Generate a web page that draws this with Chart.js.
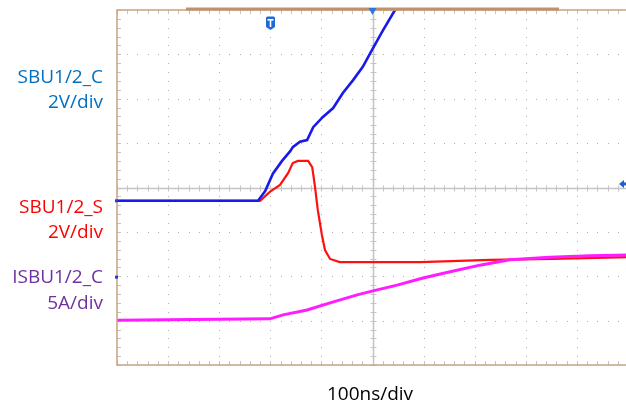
<!DOCTYPE html>
<html>
<head>
<meta charset="utf-8">
<script src="https://cdn.jsdelivr.net/npm/chart.js@4.4.1/dist/chart.umd.min.js"></script>
<style>
  html, body { margin: 0; padding: 0; background: #fff; overflow: hidden; }
  #wrap { position: relative; width: 626px; height: 404px; overflow: hidden; }
  #scope { position: absolute; left: 0; top: 0; }
  .lbl { position: absolute; right: 523px; text-align: right; white-space: nowrap;
         font-family: "Open Sans", "Liberation Sans", sans-serif; font-size: 19px; line-height: 24px; }
  #xlbl { position: absolute; left: 270px; width: 200px; text-align: center; top: 381px;
          font-family: "Open Sans", "Liberation Sans", sans-serif; font-size: 19px; line-height: 24px; color: #000; }
</style>
</head>
<body>
<div id="wrap">
  <canvas id="scope" width="640" height="404"></canvas>
  <div class="lbl" style="top:64px;color:#0070c0">SBU1/2_C</div>
  <div class="lbl" style="top:89px;color:#0070c0">2V/div</div>
  <div class="lbl" style="top:194px;color:#ff0000">SBU1/2_S</div>
  <div class="lbl" style="top:219px;color:#ff0000">2V/div</div>
  <div class="lbl" style="top:264px;color:#7030a0">ISBU1/2_C</div>
  <div class="lbl" style="top:290px;color:#7030a0">5A/div</div>
  <div id="xlbl">100ns/div</div>
</div>
<script>
// time axis: 10 divisions x 100 ns, vertical: 8 divisions (values in divisions)
const timeDivs = 10;
const nsPerDiv = 100;
const vDivs = 8;

// SBU1/2_C (2V/div)
const cTime = [0, 276, 290, 305, 323, 339, 344, 358, 372, 384, 403, 423, 442, 462, 481, 501, 521, 544, 552];
const cDiv  = [-0.30, -0.30, -0.08, 0.31, 0.60, 0.82, 0.91, 1.03, 1.07, 1.36, 1.59, 1.79, 2.13, 2.42, 2.72, 3.14, 3.55, 4.00, 4.18];

// SBU1/2_S (2V/div)
const sTime = [0, 280, 299, 319, 335, 344, 354, 374, 382, 387, 393, 401, 407, 417, 436, 593, 730, 853, 1000];
const sDiv  = [-0.30, -0.30, -0.10, 0.06, 0.33, 0.55, 0.60, 0.60, 0.46, 0.06, -0.51, -1.07, -1.41, -1.61, -1.68, -1.68, -1.63, -1.61, -1.57];

// ISBU1/2_C (5A/div)
const iTime = [0, 299, 325, 372, 417, 470, 501, 548, 599, 652, 710, 769, 847, 926, 1000];
const iDiv  = [-2.99, -2.96, -2.87, -2.76, -2.60, -2.42, -2.33, -2.20, -2.04, -1.90, -1.75, -1.63, -1.57, -1.54, -1.52];

// scope markers
const triggerTime = 300;
const centerTime = 500;
const triggerLevel = 0.08;
const channelRefs = [-0.30, -2.02];
const recordView = [135, 865];

function pts(t, v) { return t.map((x, i) => ({ x: x, y: v[i] })); }

const graticule = {
  id: 'graticule',
  beforeDatasetsDraw(chart) {
    const { ctx, chartArea: a, scales: { x, y } } = chart;
    ctx.save();
    // dotted major lines
    ctx.fillStyle = '#b0b0b0';
    for (let i = 1; i < timeDivs; i++) {
      if (i === timeDivs / 2) continue;
      const px = Math.round(x.getPixelForValue(i * nsPerDiv));
      for (let j = 0; j <= vDivs * 5; j++) {
        const py = Math.round(y.getPixelForValue(-vDivs / 2 + j * 0.2));
        ctx.fillRect(px, py, 1, 1);
      }
    }
    for (let j = 1; j < vDivs; j++) {
      if (j === vDivs / 2) continue;
      const py = Math.round(y.getPixelForValue(-vDivs / 2 + j));
      for (let i = 0; i <= timeDivs * 5; i++) {
        const px = Math.round(x.getPixelForValue(i * nsPerDiv / 5));
        ctx.fillRect(px, py, 1, 1);
      }
    }
    // center cross with minor ticks
    const cx = Math.round(x.getPixelForValue(centerTime)) + 0.5;
    const cy = Math.round(y.getPixelForValue(0)) + 0.5;
    ctx.strokeStyle = '#c4c4c4';
    ctx.lineWidth = 1.5;
    ctx.beginPath();
    ctx.moveTo(a.left, cy); ctx.lineTo(a.right, cy);
    ctx.moveTo(cx, a.top); ctx.lineTo(cx, a.bottom);
    ctx.stroke();
    ctx.lineWidth = 1;
    ctx.beginPath();
    for (let i = 0; i <= timeDivs * 5; i++) {
      const px = Math.round(x.getPixelForValue(i * nsPerDiv / 5)) + 0.5;
      ctx.moveTo(px, cy - 3); ctx.lineTo(px, cy + 3);
      ctx.moveTo(px, a.bottom); ctx.lineTo(px, a.bottom - 4);
      ctx.moveTo(px, a.top); ctx.lineTo(px, a.top + 4);
    }
    for (let j = 0; j <= vDivs * 5; j++) {
      const py = Math.round(y.getPixelForValue(-vDivs / 2 + j * 0.2)) + 0.5;
      ctx.moveTo(cx - 3, py); ctx.lineTo(cx + 3, py);
      ctx.moveTo(a.left, py); ctx.lineTo(a.left + 4, py);
    }
    ctx.stroke();
    ctx.restore();
  },
  afterDatasetsDraw(chart) {
    const { ctx, chartArea: a, scales: { x, y } } = chart;
    ctx.save();
    // frame
    ctx.strokeStyle = '#c9a27e';
    ctx.lineWidth = 1.5;
    ctx.strokeRect(a.left, a.top, a.right - a.left, a.bottom - a.top);
    // record view bar
    ctx.strokeStyle = '#c0926a';
    ctx.lineWidth = 3;
    ctx.beginPath();
    ctx.moveTo(x.getPixelForValue(recordView[0]), a.top - 1);
    ctx.lineTo(x.getPixelForValue(recordView[1]), a.top - 1);
    ctx.stroke();
    // horizontal position marker
    const cx = x.getPixelForValue(centerTime);
    ctx.fillStyle = '#2a78d8';
    ctx.beginPath();
    ctx.moveTo(cx - 4, a.top - 2); ctx.lineTo(cx + 4, a.top - 2); ctx.lineTo(cx, a.top + 5);
    ctx.closePath(); ctx.fill();
    // trigger marker
    const tx = Math.round(x.getPixelForValue(triggerTime)) + 0.5;
    const ty = a.top + 7;
    ctx.fillStyle = '#1f6ad8';
    ctx.beginPath();
    ctx.moveTo(tx - 4.5, ty + 1);
    ctx.quadraticCurveTo(tx - 4.5, ty - 0.5, tx - 3, ty - 0.5);
    ctx.lineTo(tx + 3, ty - 0.5);
    ctx.quadraticCurveTo(tx + 4.5, ty - 0.5, tx + 4.5, ty + 1);
    ctx.lineTo(tx + 4.5, ty + 10);
    ctx.lineTo(tx, ty + 13);
    ctx.lineTo(tx - 4.5, ty + 10);
    ctx.closePath(); ctx.fill();
    ctx.fillStyle = '#fff';
    ctx.fillRect(tx - 3, ty + 2, 6, 1.6);
    ctx.fillRect(tx - 0.8, ty + 2, 1.6, 8);
    // trigger level arrow at right edge
    const ly = y.getPixelForValue(triggerLevel);
    ctx.fillStyle = '#1f5fd0';
    ctx.beginPath();
    ctx.moveTo(619, ly); ctx.lineTo(624, ly - 4); ctx.lineTo(624, ly + 4);
    ctx.closePath(); ctx.fill();
    ctx.fillRect(623, ly - 1.5, 4, 3);
    // channel reference marks on the left edge
    ctx.fillStyle = '#1f3fe0';
    channelRefs.forEach(v => {
      const py = y.getPixelForValue(v);
      ctx.fillRect(a.left - 2, py - 1.5, 3, 3);
    });
    ctx.restore();
  }
};

new Chart(document.getElementById('scope').getContext('2d'), {
  type: 'scatter',
  data: {
    datasets: [
      { label: 'SBU1/2_C', data: pts(cTime, cDiv), showLine: true, borderColor: '#1a1ae8', borderWidth: 2.6, pointRadius: 0, tension: 0 },
      { label: 'ISBU1/2_C', data: pts(iTime, iDiv), showLine: true, borderColor: '#ff1cff', borderWidth: 3, pointRadius: 0, tension: 0 },
      { label: 'SBU1/2_S', data: pts(sTime, sDiv), showLine: true, borderColor: '#ff1010', borderWidth: 2.2, pointRadius: 0, tension: 0 }
    ]
  },
  options: {
    responsive: false,
    animation: false,
    events: [],
    layout: { padding: { left: 117, top: 10, right: 12, bottom: 39 } },
    plugins: { legend: { display: false }, tooltip: { enabled: false } },
    scales: {
      x: { type: 'linear', min: 0, max: timeDivs * nsPerDiv, display: false },
      y: { type: 'linear', min: -vDivs / 2, max: vDivs / 2, display: false }
    }
  },
  plugins: [graticule]
});
</script>
</body>
</html>
